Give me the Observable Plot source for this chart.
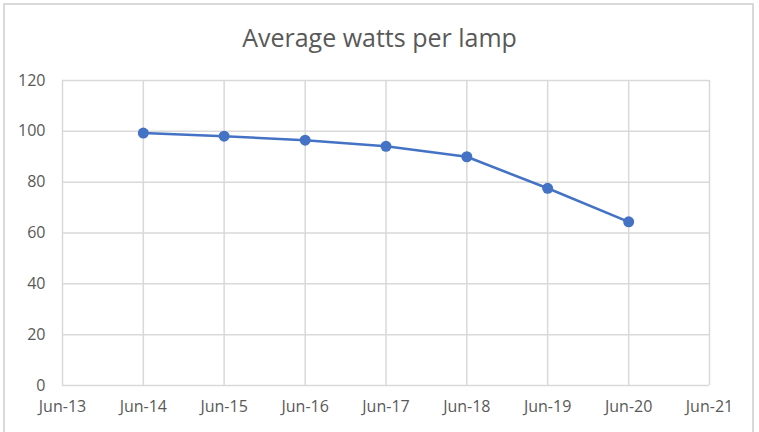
<!DOCTYPE html>
<html>
<head>
<meta charset="utf-8">
<script src="https://cdn.jsdelivr.net/npm/d3@7"></script>
<script src="https://cdn.jsdelivr.net/npm/@observablehq/plot@0.6"></script>
<style>
  html, body { margin: 0; padding: 0; background: #fff; }
  #wrap { position: relative; width: 759px; height: 432px; overflow: hidden; background: #fff; font-family: "Open Sans", sans-serif; }
  #frame { position: absolute; left: 3px; top: 3px; width: 751px; height: 450px; border: 2px solid #d9d9d9; box-sizing: border-box; }
  #title { position: absolute; left: 0; width: 759px; top: 18px; text-align: center; font-size: 25px; color: #595959; line-height: 38px; }
  #chart { position: absolute; left: 0; top: 60px; }
</style>
</head>
<body>
<div id="wrap">
  <div id="frame"></div>
  <div id="title">Average watts per lamp</div>
  <div id="chart"></div>
</div>
<script>
const title = "Average watts per lamp";
const months = ["Jun-14", "Jun-15", "Jun-16", "Jun-17", "Jun-18", "Jun-19", "Jun-20"];
const watts = [99.3, 98.1, 96.5, 94.1, 90.0, 77.6, 64.4];
const xTickLabels = ["Jun-13", "Jun-14", "Jun-15", "Jun-16", "Jun-17", "Jun-18", "Jun-19", "Jun-20", "Jun-21"];
const yTicks = [0, 20, 40, 60, 80, 100, 120];

const parse = d3.utcParse("%b-%y");
const fmt = d3.utcFormat("%b-%y");
const xTicks = xTickLabels.map(parse);
const data = months.map((m, i) => ({date: parse(m), value: watts[i]}));

const grid = "#d9d9d9";
const textColor = "#595959";

const chart = Plot.plot({
  width: 759,
  height: 372,
  marginTop: 20,
  marginBottom: 47,
  marginLeft: 62,
  marginRight: 50,
  style: { fontFamily: "'Open Sans', sans-serif", fontSize: "16px", color: textColor, background: "transparent" },
  x: { type: "utc", domain: [xTicks[0], xTicks[xTicks.length - 1]], label: null },
  y: { domain: [0, 120], label: null },
  marks: [
    Plot.gridX(xTicks, { stroke: grid, strokeOpacity: 1, strokeWidth: 1.5 }),
    Plot.gridY(yTicks, { stroke: grid, strokeOpacity: 1, strokeWidth: 1.5 }),
    Plot.axisX(xTicks, { tickSize: 0, tickPadding: 15, tickFormat: fmt, fill: textColor, fontSize: 16, label: null }),
    Plot.axisY(yTicks, { tickSize: 0, tickPadding: 17, fill: textColor, fontSize: 16, label: null }),
    Plot.line(data, { x: "date", y: "value", stroke: "#4472C4", strokeWidth: 2.5 }),
    Plot.dot(data, { x: "date", y: "value", fill: "#4472C4", r: 5.5 })
  ]
});
document.getElementById("chart").appendChild(chart);
</script>
</body>
</html>
